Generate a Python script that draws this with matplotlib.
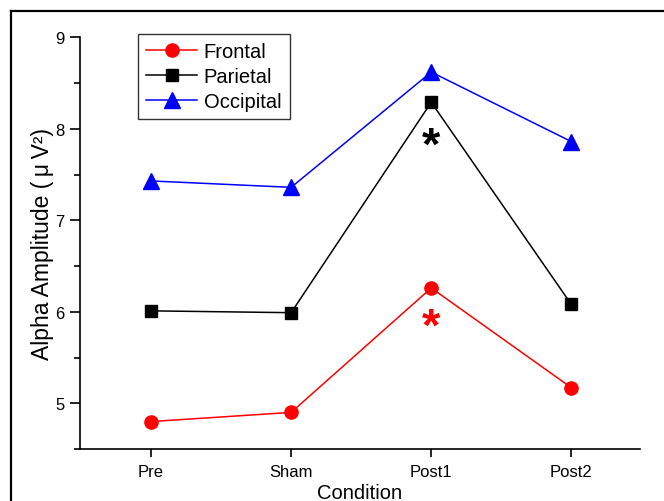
import matplotlib
matplotlib.use("Agg")
import matplotlib.pyplot as plt
from matplotlib.lines import Line2D
from matplotlib.ticker import MultipleLocator

plt.rcParams['font.family'] = ['Liberation Sans', 'DejaVu Sans']

conditions = ['Pre', 'Sham', 'Post1', 'Post2']
frontal = [4.80, 4.90, 6.26, 5.17]
parietal = [6.01, 5.99, 8.29, 6.08]
occipital = [7.43, 7.36, 8.62, 7.86]

# significance marks (condition index, y)
stars = [(2, 7.80, 'black'), (2, 5.83, 'red')]

fig = plt.figure(figsize=(6.64, 5.02), dpi=100)
ax = fig.add_axes([80/664, 52/502, 560/664, (450-38.3)/502])

x = range(len(conditions))
ax.plot(x, frontal, '-o', color='red', lw=1.1, ms=9.5, label='Frontal')
ax.plot(x, parietal, '-s', color='black', lw=1.1, ms=8.5, label='Parietal')
ax.plot(x, occipital, '-^', color='blue', lw=1.1, ms=11.5, label='Occipital')

for xi, yi, c in stars:
    ax.text(xi, yi, '*', color=c, fontsize=34, fontweight='bold',
            ha='center', va='center')

ax.set_xlim(-0.507, 3.49)
ax.set_ylim(4.5, 9)
ax.set_xticks(list(x))
ax.set_xticklabels(conditions)
ax.yaxis.set_major_locator(MultipleLocator(1))
ax.yaxis.set_minor_locator(MultipleLocator(0.5))

for s in ['top', 'right']:
    ax.spines[s].set_visible(False)
for s in ['left', 'bottom']:
    ax.spines[s].set_linewidth(1.2)

ax.tick_params(axis='both', which='major', direction='out', width=1.2,
               labelsize=12, colors='black')
ax.tick_params(axis='y', which='major', length=7, pad=4)
ax.tick_params(axis='x', which='major', length=6, pad=5)
ax.tick_params(axis='y', which='minor', length=4, width=1.2)

ax.set_xlabel('Condition', fontsize=14.5, va='top')
ax.xaxis.set_label_coords(0.5, -0.083)
ax.set_ylabel('Alpha Amplitude (\u2009μ\u2009V²)', fontsize=16.5)
ax.yaxis.set_label_coords(-0.046, 0.5)

leg = ax.legend(loc='upper left', bbox_to_anchor=(0.1036, 1.008),
                borderaxespad=0, fontsize=14.5, frameon=True, fancybox=False,
                edgecolor='black', handlelength=2.5, handletextpad=0.35,
                labelspacing=0.28, borderpad=0.42)
leg.get_frame().set_linewidth(1.0)

# outer frame (cropped: only top and left edges visible)
fig.add_artist(Line2D([11/664, 11/664], [0, 1 - 11.7/502],
                      transform=fig.transFigure, color='black', lw=1.6))
fig.add_artist(Line2D([11/664, 1], [1 - 11.7/502, 1 - 11.7/502],
                      transform=fig.transFigure, color='black', lw=1.6))

fig.savefig('out.png', dpi=100)
